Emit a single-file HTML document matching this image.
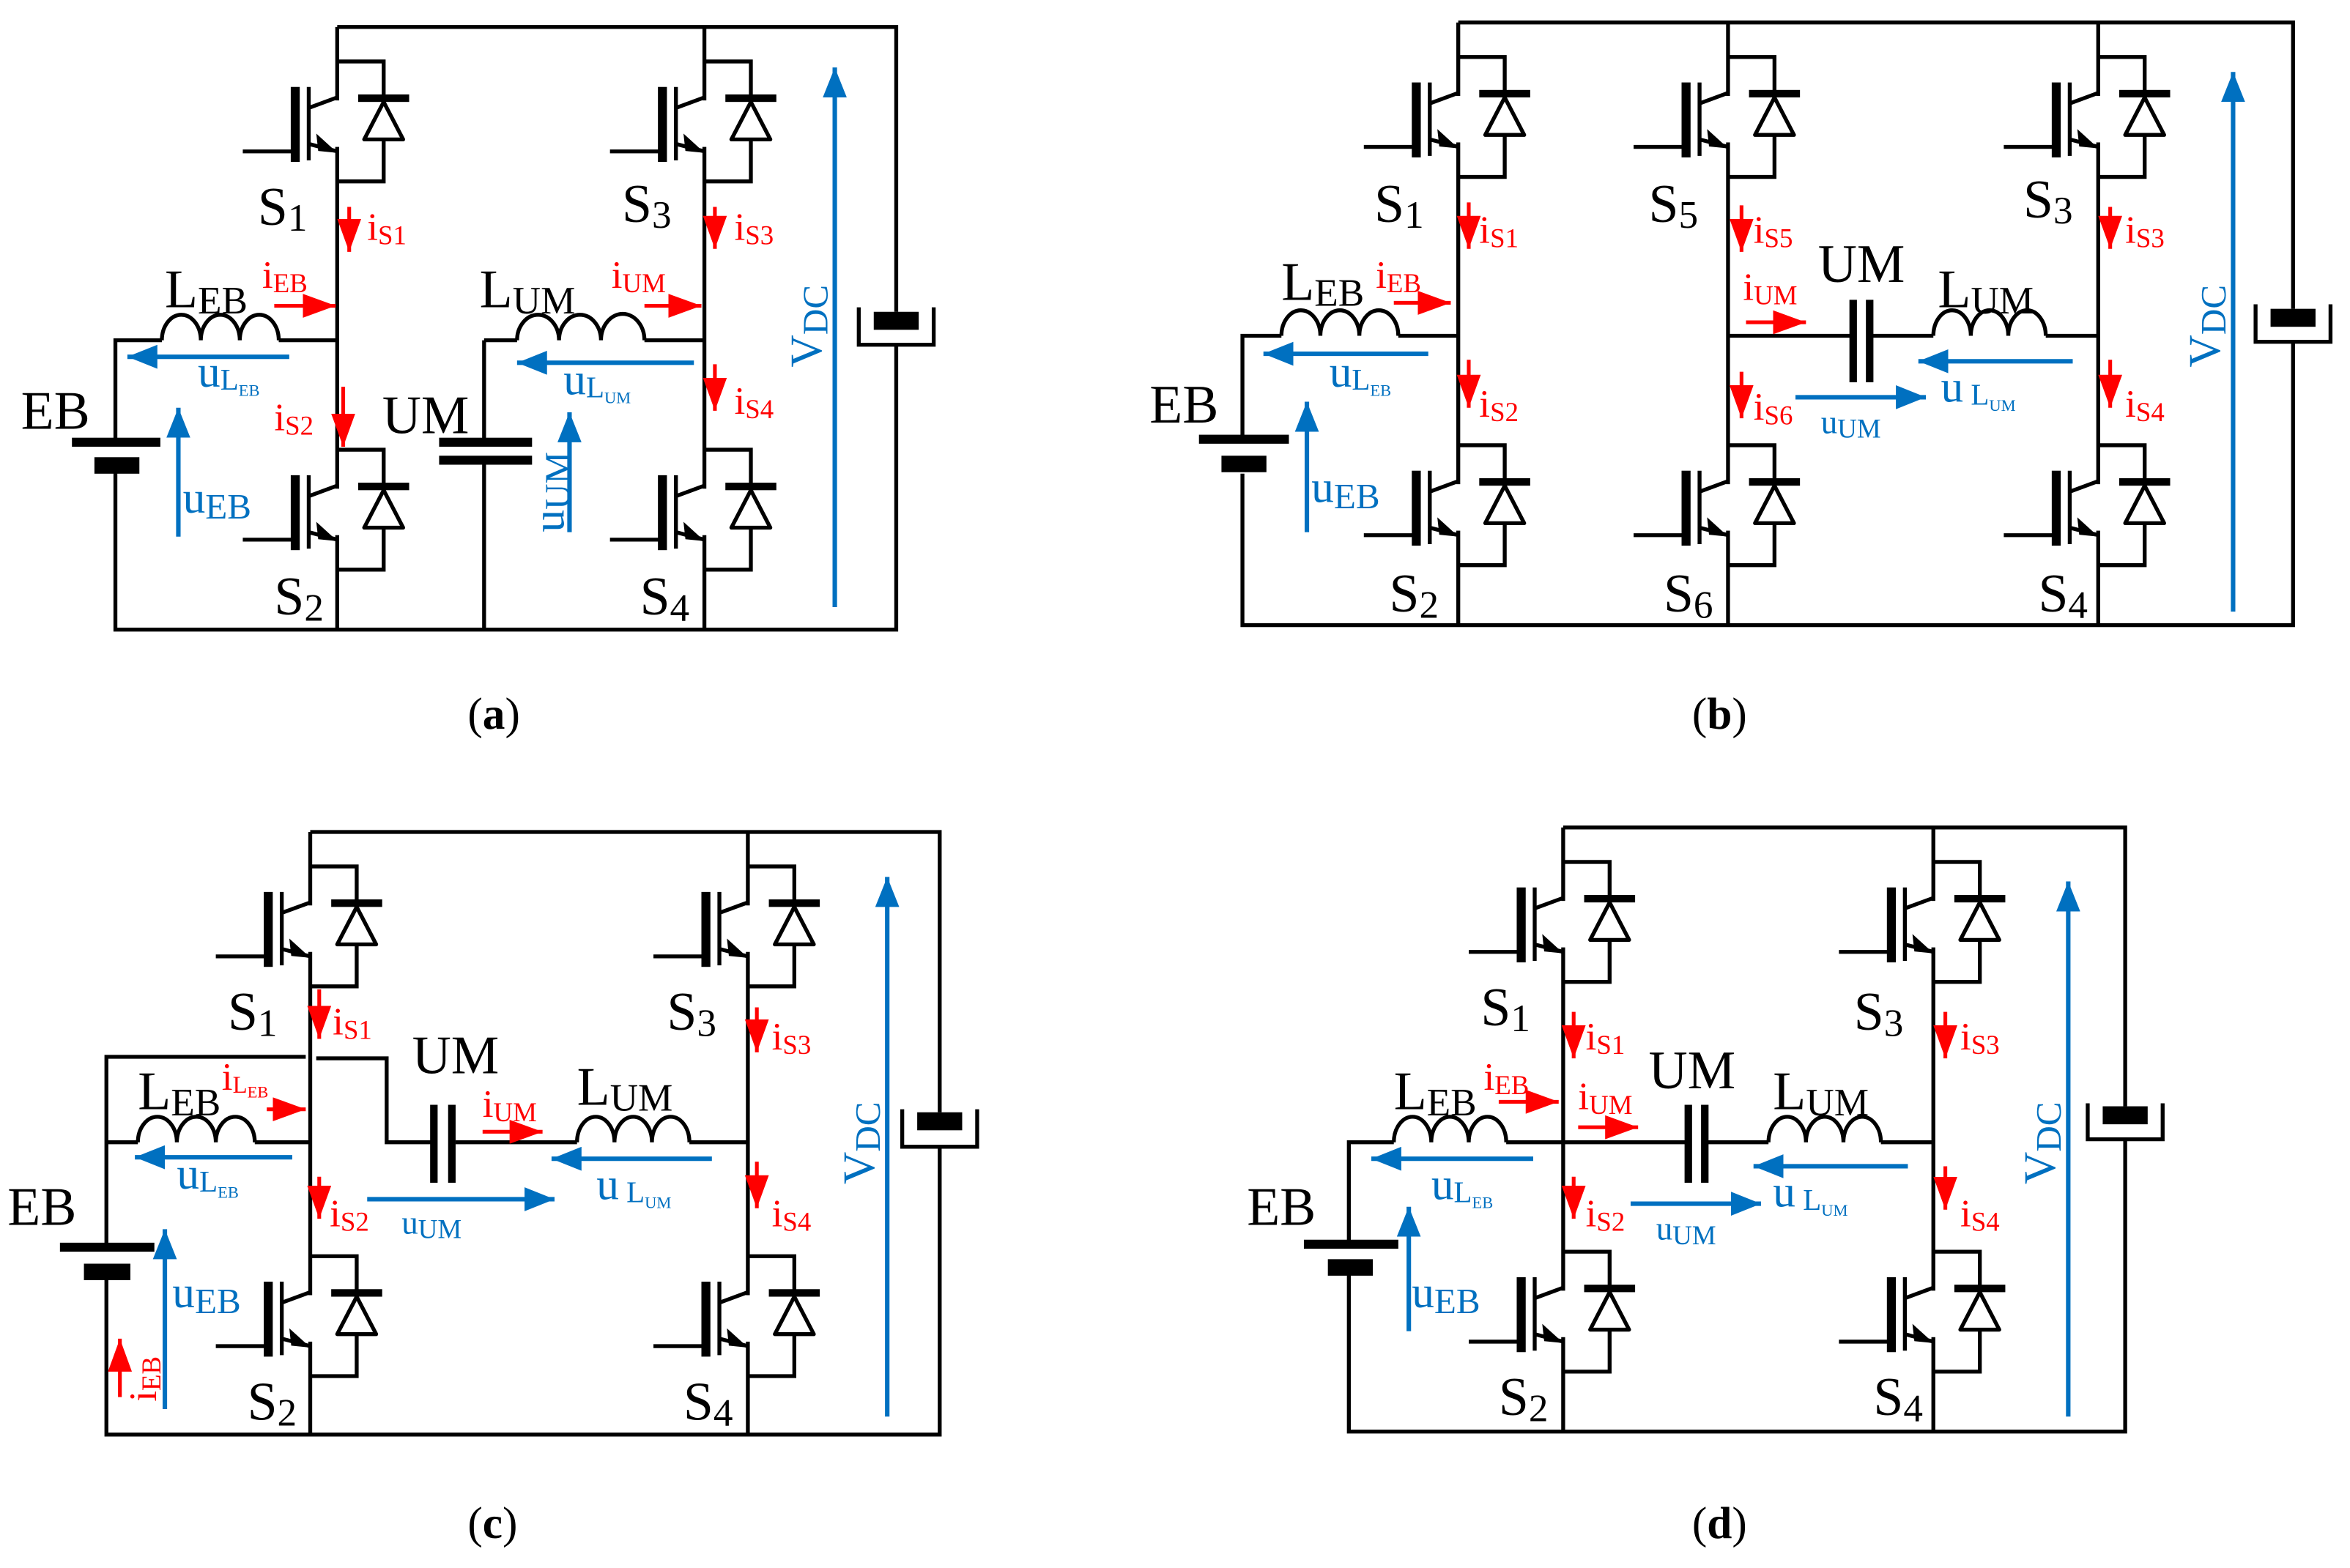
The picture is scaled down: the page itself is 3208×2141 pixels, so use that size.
<!DOCTYPE html>
<html><head><meta charset="utf-8"><style>html,body{margin:0;padding:0;background:#fff}svg{display:block}text{font-family:"Liberation Serif",serif}</style></head>
<body>
<svg width="3208" height="2141" viewBox="0 0 1568 1046" preserveAspectRatio="none" xmlns="http://www.w3.org/2000/svg" style="font-family:'Liberation Serif',serif">
<defs>
<marker id="ar" markerUnits="userSpaceOnUse" markerWidth="24" markerHeight="16" refX="22" refY="8" orient="auto"><path d="M0,0 L22,8 L0,16 Z" fill="#f00"/></marker>
<marker id="ab" markerUnits="userSpaceOnUse" markerWidth="22" markerHeight="16" refX="20" refY="8" orient="auto"><path d="M0,0 L20,8 L0,16 Z" fill="#0070c0"/></marker>
<g id="sw">
<rect x="-3" y="26" width="6" height="31" fill="#fff"/>
<path d="M0,0 H31 V80 H0" fill="none" stroke="#000" stroke-width="2.6"/>
<path d="M0,24 L-19,31 M-19,17 V66 M-19,55 L0,60 M-63,60 H-28" fill="none" stroke="#000" stroke-width="2.6"/>
<path d="M-2,60 L-13,50 L-12,59 Z" fill="#000" stroke="#000" stroke-width="1.5"/>
<rect x="-31" y="17" width="6" height="50" fill="#000"/>
<rect x="14" y="22" width="34" height="5" fill="#000"/>
<path d="M31,27 L18,52 H44 Z" fill="#fff" stroke="#000" stroke-width="2.6" stroke-linejoin="round"/>
</g>
</defs>
<g fill="none" stroke="#000" stroke-width="2.6">
<path d="M225,18 H598 V208 M598,230 V420 H77 V311 M77,295 V227 H108 M186,227 H225 M225,18 V420 M470,18 V420 M323,227 V295 M323,307 V420 M323,227 H345 M430,227 H470"/>
<path d="M108,227 a13,17 0 0 1 26,0 a13,17 0 0 1 26,0 a13,17 0 0 1 26,0"/>
<path d="M345,227 a14,17 0 0 1 28,0 a14,17 0 0 1 28,0 a14,17 0 0 1 29,0"/>
<path d="M573,205 V230 H623 V205"/>
<path d="M973,15 H1530 V206 M1530,228 V417 H829 V316 M829,292 V224 H855 M933,224 H973 M973,15 V417 M1153,15 V417 M1400,15 V417 M1153,224 H1236 M1248,224 H1290 M1365,224 H1400"/>
<path d="M855,224 a13,17 0 0 1 26,0 a13,17 0 0 1 26,0 a13,17 0 0 1 26,0"/>
<path d="M1290,224 a12.5,17 0 0 1 25,0 a12.5,17 0 0 1 25,0 a12.5,17 0 0 1 25,0"/>
<path d="M1505,203 V228 H1555 V203"/>
<path d="M207,555 H627 V742 M627,765 V957 H71 V849 M71,831 V705 H204 M211,706 H258 V762 H288 M304,762 H385 M460,762 H499 M71,762 H92 M170,762 H207 M207,555 V957 M499,555 V957"/>
<path d="M92,762 a13,17 0 0 1 26,0 a13,17 0 0 1 26,0 a13,17 0 0 1 26,0"/>
<path d="M385,762 a12.5,17 0 0 1 25,0 a12.5,17 0 0 1 25,0 a12.5,17 0 0 1 25,0"/>
<path d="M602,740 V765 H652 V740"/>
<path d="M1043,552 H1418 V738 M1418,760 V955 H900 V849 M900,829 V762 H930 M1005,762 H1126 M1138,762 H1180 M1255,762 H1290 M1043,552 V955 M1290,552 V955"/>
<path d="M930,762 a12.5,17 0 0 1 25,0 a12.5,17 0 0 1 25,0 a12.5,17 0 0 1 25,0"/>
<path d="M1180,762 a12.5,17 0 0 1 25,0 a12.5,17 0 0 1 25,0 a12.5,17 0 0 1 25,0"/>
<path d="M1393,736 V760 H1443 V736"/>
</g>
<g fill="#000">
<rect x="48" y="292" width="59" height="6"/><rect x="63" y="305" width="30" height="11"/>
<rect x="293" y="292" width="62" height="6"/><rect x="293" y="304" width="62" height="6"/>
<rect x="583" y="208" width="30" height="12"/>
<rect x="800" y="290" width="60" height="6"/><rect x="815" y="304" width="30" height="11"/>
<rect x="1234" y="200" width="5" height="55"/><rect x="1245" y="200" width="5" height="55"/>
<rect x="1515" y="206" width="30" height="12"/>
<rect x="40" y="829" width="63" height="6"/><rect x="56" y="843" width="31" height="11"/>
<rect x="287" y="737" width="5" height="52"/><rect x="299" y="737" width="5" height="52"/>
<rect x="612" y="742" width="30" height="12"/>
<rect x="870" y="827" width="63" height="6"/><rect x="886" y="840" width="30" height="11"/>
<rect x="1124" y="737" width="5" height="52"/><rect x="1135" y="737" width="5" height="52"/>
<rect x="1403" y="738" width="30" height="12"/>
</g>
<use href="#sw" x="225" y="41"/><use href="#sw" x="225" y="300"/><use href="#sw" x="470" y="41"/><use href="#sw" x="470" y="300"/>
<use href="#sw" x="973" y="38"/><use href="#sw" x="973" y="297"/><use href="#sw" x="1153" y="38"/><use href="#sw" x="1153" y="297"/><use href="#sw" x="1400" y="38"/><use href="#sw" x="1400" y="297"/>
<use href="#sw" x="207" y="578"/><use href="#sw" x="207" y="838"/><use href="#sw" x="499" y="578"/><use href="#sw" x="499" y="838"/>
<use href="#sw" x="1043" y="575"/><use href="#sw" x="1043" y="835"/><use href="#sw" x="1290" y="575"/><use href="#sw" x="1290" y="835"/>
<g stroke="#f00" stroke-width="2.5" marker-end="url(#ar)">
<path d="M233,138 V168"/><path d="M183,204 H224"/><path d="M229,258 V298"/><path d="M430,204 H468"/><path d="M477,138 V166"/><path d="M477,243 V274"/>
<path d="M980,135 V166"/><path d="M930,202 H968"/><path d="M980,240 V272"/><path d="M1162,137 V168"/><path d="M1165,215 H1205"/><path d="M1162,248 V279"/><path d="M1408,138 V166"/><path d="M1408,240 V272"/>
<path d="M213,660 V693"/><path d="M178,740 H204"/><path d="M213,785 V813"/><path d="M505,672 V702"/><path d="M505,775 V806"/><path d="M322,755 H362"/><path d="M80,932 V893"/>
<path d="M1050,675 V706"/><path d="M1000,735 H1040"/><path d="M1053,752 H1093"/><path d="M1050,785 V813"/><path d="M1298,675 V706"/><path d="M1298,778 V807"/>
</g>
<g stroke="#0070c0" stroke-width="3" marker-end="url(#ab)">
<path d="M193,238 H85"/><path d="M119,358 V272"/><path d="M463,242 H345"/><path d="M380,355 V275"/><path d="M557,405 V45"/>
<path d="M953,236 H843"/><path d="M872,355 V268"/><path d="M1198,265 H1285"/><path d="M1383,241 H1280"/><path d="M1490,408 V48"/>
<path d="M195,772 H90"/><path d="M110,940 V820"/><path d="M245,800 H370"/><path d="M475,773 H368"/><path d="M592,945 V585"/>
<path d="M1023,773 H915"/><path d="M940,888 V805"/><path d="M1088,803 H1175"/><path d="M1273,778 H1170"/><path d="M1380,945 V588"/>
</g>
<g fill="#000" font-size="36">
<text x="172" y="150">S<tspan font-size="26" dy="4">1</tspan></text>
<text x="183" y="410">S<tspan font-size="26" dy="4">2</tspan></text>
<text x="415" y="148">S<tspan font-size="26" dy="4">3</tspan></text>
<text x="427" y="410">S<tspan font-size="26" dy="4">4</tspan></text>
<text x="110" y="205">L<tspan font-size="26" dy="4">EB</tspan></text>
<text x="320" y="205">L<tspan font-size="26" dy="4">UM</tspan></text>
<text x="14" y="286">EB</text><text x="255" y="289">UM</text>
<text x="917" y="148">S<tspan font-size="26" dy="4">1</tspan></text>
<text x="927" y="408">S<tspan font-size="26" dy="4">2</tspan></text>
<text x="1100" y="148">S<tspan font-size="26" dy="4">5</tspan></text>
<text x="1110" y="408">S<tspan font-size="26" dy="4">6</tspan></text>
<text x="1350" y="145">S<tspan font-size="26" dy="4">3</tspan></text>
<text x="1360" y="408">S<tspan font-size="26" dy="4">4</tspan></text>
<text x="855" y="200">L<tspan font-size="26" dy="4">EB</tspan></text>
<text x="1293" y="205">L<tspan font-size="26" dy="4">UM</tspan></text>
<text x="767" y="282">EB</text><text x="1213" y="188">UM</text>
<text x="152" y="687">S<tspan font-size="26" dy="4">1</tspan></text>
<text x="165" y="947">S<tspan font-size="26" dy="4">2</tspan></text>
<text x="445" y="687">S<tspan font-size="26" dy="4">3</tspan></text>
<text x="456" y="947">S<tspan font-size="26" dy="4">4</tspan></text>
<text x="92" y="740">L<tspan font-size="26" dy="4">EB</tspan></text>
<text x="385" y="737">L<tspan font-size="26" dy="4">UM</tspan></text>
<text x="5" y="817">EB</text><text x="275" y="716">UM</text>
<text x="988" y="684">S<tspan font-size="26" dy="4">1</tspan></text>
<text x="1000" y="944">S<tspan font-size="26" dy="4">2</tspan></text>
<text x="1237" y="687">S<tspan font-size="26" dy="4">3</tspan></text>
<text x="1250" y="944">S<tspan font-size="26" dy="4">4</tspan></text>
<text x="930" y="740">L<tspan font-size="26" dy="4">EB</tspan></text>
<text x="1183" y="740">L<tspan font-size="26" dy="4">UM</tspan></text>
<text x="832" y="817">EB</text><text x="1100" y="726">UM</text>
<g font-size="30"><text x="312" y="486">(<tspan font-weight="bold">a</tspan>)</text><text x="1129" y="486">(<tspan font-weight="bold">b</tspan>)</text><text x="312" y="1026">(<tspan font-weight="bold">c</tspan>)</text><text x="1129" y="1026">(<tspan font-weight="bold">d</tspan>)</text></g>
</g>
<g fill="#f00" font-size="26">
<text x="245" y="160">i<tspan font-size="18" dy="3">S1</tspan></text>
<text x="175" y="192">i<tspan font-size="18" dy="3">EB</tspan></text>
<text x="183" y="287">i<tspan font-size="18" dy="3">S2</tspan></text>
<text x="408" y="192">i<tspan font-size="18" dy="3">UM</tspan></text>
<text x="490" y="160">i<tspan font-size="18" dy="3">S3</tspan></text>
<text x="490" y="276">i<tspan font-size="18" dy="3">S4</tspan></text>
<text x="987" y="162">i<tspan font-size="18" dy="3">S1</tspan></text>
<text x="918" y="192">i<tspan font-size="18" dy="3">EB</tspan></text>
<text x="987" y="278">i<tspan font-size="18" dy="3">S2</tspan></text>
<text x="1170" y="162">i<tspan font-size="18" dy="3">S5</tspan></text>
<text x="1163" y="200">i<tspan font-size="18" dy="3">UM</tspan></text>
<text x="1170" y="280">i<tspan font-size="18" dy="3">S6</tspan></text>
<text x="1418" y="162">i<tspan font-size="18" dy="3">S3</tspan></text>
<text x="1418" y="278">i<tspan font-size="18" dy="3">S4</tspan></text>
<text x="222" y="690">i<tspan font-size="18" dy="3">S1</tspan></text>
<text x="148" y="727">i<tspan font-size="16" dy="2">L</tspan><tspan font-size="11" dy="3">EB</tspan></text>
<text x="220" y="818">i<tspan font-size="18" dy="3">S2</tspan></text>
<text x="515" y="700">i<tspan font-size="18" dy="3">S3</tspan></text>
<text x="515" y="818">i<tspan font-size="18" dy="3">S4</tspan></text>
<text x="322" y="745">i<tspan font-size="18" dy="3">UM</tspan></text>
<text transform="translate(104,935) rotate(-90)">i<tspan font-size="18" dy="3">EB</tspan></text>
<text x="1058" y="700">i<tspan font-size="18" dy="3">S1</tspan></text>
<text x="990" y="727">i<tspan font-size="18" dy="3">EB</tspan></text>
<text x="1053" y="740">i<tspan font-size="18" dy="3">UM</tspan></text>
<text x="1058" y="818">i<tspan font-size="18" dy="3">S2</tspan></text>
<text x="1308" y="700">i<tspan font-size="18" dy="3">S3</tspan></text>
<text x="1308" y="818">i<tspan font-size="18" dy="3">S4</tspan></text>
</g>
<g fill="#0070c0" font-size="30">
<text x="132" y="258">u<tspan font-size="20" dy="2">L</tspan><tspan font-size="11" dy="4">EB</tspan></text>
<text x="122" y="342">u<tspan font-size="24" dy="4">EB</tspan></text>
<text x="376" y="263">u<tspan font-size="20" dy="2">L</tspan><tspan font-size="11" dy="4">UM</tspan></text>
<text transform="translate(376,355) rotate(-90)">u<tspan font-size="24" dy="4">UM</tspan></text>
<text transform="translate(548,245) rotate(-90)">V<tspan font-size="24" dy="4">DC</tspan></text>
<text x="887" y="258">u<tspan font-size="20" dy="2">L</tspan><tspan font-size="11" dy="4">EB</tspan></text>
<text x="875" y="335">u<tspan font-size="24" dy="4">EB</tspan></text>
<text x="1215" y="289" font-size="22">u<tspan font-size="18" dy="3">UM</tspan></text>
<text x="1295" y="268">u<tspan font-size="20" dy="2"> L</tspan><tspan font-size="11" dy="4">UM</tspan></text>
<text transform="translate(1481,245) rotate(-90)">V<tspan font-size="24" dy="4">DC</tspan></text>
<text x="118" y="793">u<tspan font-size="20" dy="2">L</tspan><tspan font-size="11" dy="4">EB</tspan></text>
<text x="115" y="872">u<tspan font-size="24" dy="4">EB</tspan></text>
<text x="268" y="823" font-size="22">u<tspan font-size="18" dy="3">UM</tspan></text>
<text x="398" y="800">u<tspan font-size="20" dy="2"> L</tspan><tspan font-size="11" dy="4">UM</tspan></text>
<text transform="translate(583,790) rotate(-90)">V<tspan font-size="24" dy="4">DC</tspan></text>
<text x="955" y="800">u<tspan font-size="20" dy="2">L</tspan><tspan font-size="11" dy="4">EB</tspan></text>
<text x="942" y="872">u<tspan font-size="24" dy="4">EB</tspan></text>
<text x="1105" y="827" font-size="22">u<tspan font-size="18" dy="3">UM</tspan></text>
<text x="1183" y="805">u<tspan font-size="20" dy="2"> L</tspan><tspan font-size="11" dy="4">UM</tspan></text>
<text transform="translate(1371,790) rotate(-90)">V<tspan font-size="24" dy="4">DC</tspan></text>
</g>
</svg>
</body></html>
